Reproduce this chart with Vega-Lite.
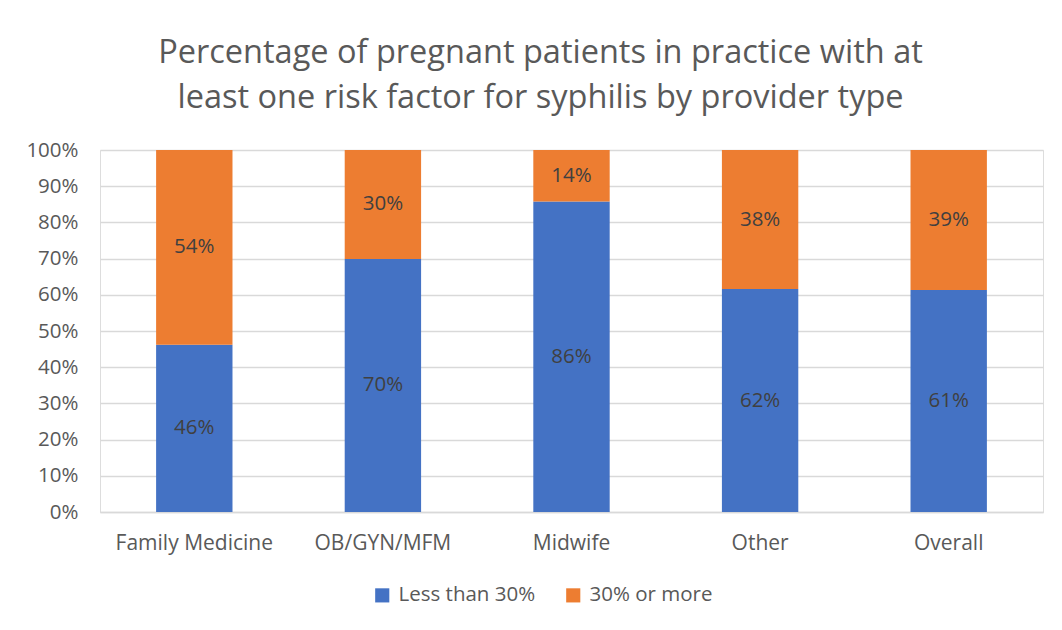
{
  "$schema": "https://vega.github.io/schema/vega-lite/v6.json",
  "width": 943,
  "height": 362,
  "autosize": {"type": "none"},
  "padding": {"left": 100, "top": 150, "right": 19, "bottom": 118},
  "background": "white",
  "title": {
    "text": ["Percentage of pregnant patients in practice with at", "least one risk factor for syphilis by provider type"],
    "font": "Open Sans",
    "fontSize": 32.5,
    "fontWeight": "normal",
    "color": "#595959",
    "anchor": "middle",
    "dx": -31,
    "offset": 26,
    "lineHeight": 45
  },
  "data": {
    "values": [
      {"type": "Family Medicine", "group": "Less than 30%", "ord": 1, "v": 0.462},
      {"type": "Family Medicine", "group": "30% or more", "ord": 2, "v": 0.538},
      {"type": "OB/GYN/MFM", "group": "Less than 30%", "ord": 1, "v": 0.699},
      {"type": "OB/GYN/MFM", "group": "30% or more", "ord": 2, "v": 0.301},
      {"type": "Midwife", "group": "Less than 30%", "ord": 1, "v": 0.858},
      {"type": "Midwife", "group": "30% or more", "ord": 2, "v": 0.142},
      {"type": "Other", "group": "Less than 30%", "ord": 1, "v": 0.616},
      {"type": "Other", "group": "30% or more", "ord": 2, "v": 0.384},
      {"type": "Overall", "group": "Less than 30%", "ord": 1, "v": 0.613},
      {"type": "Overall", "group": "30% or more", "ord": 2, "v": 0.387}
    ]
  },
  "encoding": {
    "x": {
      "field": "type", "type": "nominal", "sort": null, "title": null,
      "scale": {"paddingInner": 0.595, "paddingOuter": 0.2975},
      "axis": {"labelAngle": 0, "labelFont": "Open Sans", "labelFontSize": 21, "labelColor": "#595959", "labelPadding": 20, "ticks": false, "domainColor": "#D9D9D9", "domainWidth": 1.5}
    },
    "y": {
      "field": "v", "type": "quantitative", "stack": "zero", "title": null,
      "scale": {"domain": [0, 1]},
      "axis": {"format": ".0%", "values": [0,0.1,0.2,0.3,0.4,0.5,0.6,0.7,0.8,0.9,1], "labelFont": "Open Sans", "labelFontSize": 20.5, "labelColor": "#595959", "labelPadding": 22, "ticks": false, "domain": false, "gridColor": "#D9D9D9", "gridWidth": 1.5}
    },
    "order": {"field": "ord", "type": "quantitative"}
  },
  "layer": [
    {
      "mark": {"type": "bar"},
      "encoding": {
        "color": {
          "field": "group", "type": "nominal", "title": null,
          "scale": {"domain": ["Less than 30%", "30% or more"], "range": ["#4472C4", "#ED7D31"]},
          "legend": {"orient": "none", "legendX": 272, "legendY": 435, "direction": "horizontal", "symbolType": "square", "symbolSize": 200, "symbolStrokeWidth": 0, "labelFont": "Open Sans", "labelFontSize": 20.5, "labelColor": "#595959", "columnPadding": 27, "labelOffset": 6}
        }
      }
    },
    {
      "mark": {"type": "text", "font": "Open Sans", "fontSize": 20.5, "color": "#404040"},
      "encoding": {
        "y": {"field": "v", "type": "quantitative", "stack": "zero", "bandPosition": 0.5},
        "text": {"field": "v", "type": "quantitative", "format": ".0%"}
      }
    }
  ]
}
